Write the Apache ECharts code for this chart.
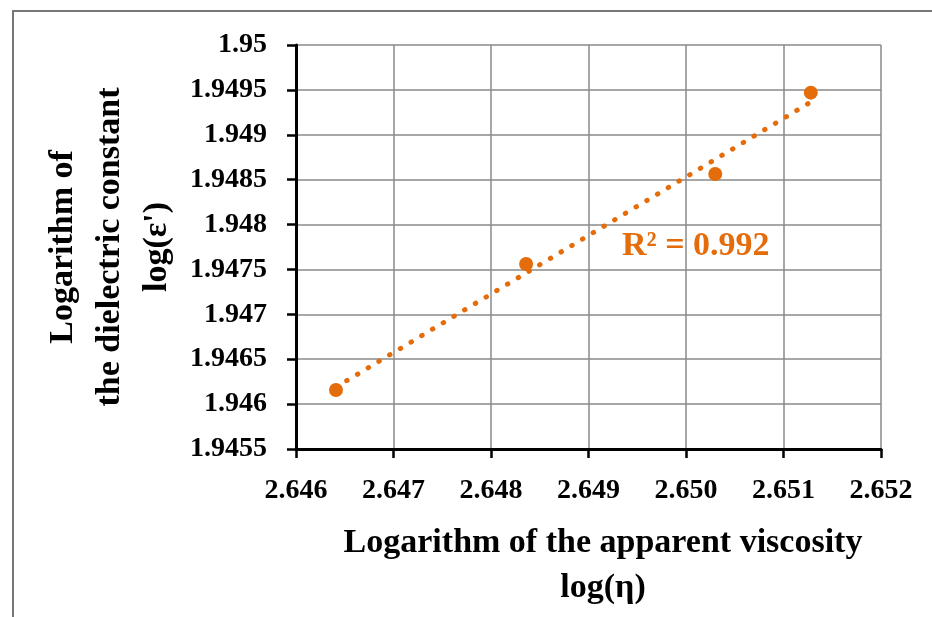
<!DOCTYPE html>
<html lang="en">
<head>
    <meta charset="UTF-8">
    <title>log(ε') vs log(η)</title>
    <script src="https://cdn.jsdelivr.net/npm/echarts@6.0.0/dist/echarts.min.js"></script>
    <style>
        html, body {
            margin: 0;
            padding: 0;
            background: #fff;
        }
        #frame {
            position: absolute;
            left: 12px;
            top: 10px;
            width: 930px;
            height: 617px;
            border-left: 2px solid #777;
            border-top: 2px solid #777;
        }
        #chart {
            position: absolute;
            left: 0;
            top: 0;
            width: 932px;
            height: 617px;
        }
    </style>
</head>
<body>
    <div id="frame"></div>
    <div id="chart"></div>

    <script>
        // measured points: log(viscosity) vs log(dielectric constant)
        const logViscosity = [2.64641, 2.64836, 2.65030, 2.65128];
        const logDielectric = [1.946158, 1.947561, 1.948563, 1.949469];

        // linear trendline ends, as drawn
        const trendX = [2.64641, 2.65128];
        const trendY = [1.946189, 1.949365];

        const rSquaredText = 'R² = 0.992';

        const orange = '#E46C0A';
        const serif = '"Liberation Serif", "DejaVu Serif", serif';

        const chart = echarts.init(document.getElementById('chart'), null, { renderer: 'canvas' });

        const points = logViscosity.map((x, i) => [x, logDielectric[i]]);
        const trend = trendX.map((x, i) => [x, trendY[i]]);

        chart.setOption({
            animation: false,
            backgroundColor: 'transparent',
            grid: { left: 296, right: 51, top: 45, bottom: 168 },
            xAxis: {
                type: 'value',
                min: 2.646,
                max: 2.652,
                interval: 0.001,
                axisLine: { show: true, onZero: false, lineStyle: { color: '#000', width: 3 } },
                axisTick: { show: true, inside: false, length: 9, lineStyle: { color: '#000', width: 2.5 } },
                axisLabel: {
                    margin: 28,
                    color: '#000',
                    fontFamily: serif,
                    fontWeight: 'bold',
                    fontSize: 28,
                    formatter: v => v.toFixed(3)
                },
                splitLine: { show: true, lineStyle: { color: '#8a8a8a', width: 1.5 } }
            },
            yAxis: {
                type: 'value',
                min: 1.9455,
                max: 1.95,
                interval: 0.0005,
                axisLine: { show: true, onZero: false, lineStyle: { color: '#000', width: 3 } },
                axisTick: { show: true, inside: false, length: 9, lineStyle: { color: '#000', width: 2.5 } },
                axisLabel: {
                    margin: 29,
                    color: '#000',
                    fontFamily: serif,
                    fontWeight: 'bold',
                    fontSize: 28,
                    formatter: v => String(parseFloat(v.toFixed(4)))
                },
                splitLine: { show: true, lineStyle: { color: '#8a8a8a', width: 1.5 } }
            },
            series: [
                {
                    name: 'trend',
                    type: 'line',
                    data: trend,
                    symbol: 'none',
                    z: 2,
                    lineStyle: { color: orange, width: 5, type: [0.5, 12], cap: 'round' }
                },
                {
                    name: 'data',
                    type: 'scatter',
                    data: points,
                    symbol: 'circle',
                    symbolSize: 14,
                    z: 3,
                    itemStyle: { color: orange, opacity: 1 }
                }
            ],
            graphic: [
                {
                    type: 'text',
                    left: 622,
                    top: 229,
                    style: {
                        text: rSquaredText,
                        fill: orange,
                        font: 'bold 34px ' + serif
                    }
                },
                {
                    type: 'text',
                    x: 110,
                    y: 247,
                    rotation: Math.PI / 2,
                    style: {
                        text: 'Logarithm of\nthe dielectric constant\nlog(ε\')',
                        fill: '#000',
                        font: 'bold 34px ' + serif,
                        lineHeight: 47,
                        align: 'center',
                        verticalAlign: 'middle'
                    }
                },
                {
                    type: 'text',
                    x: 603,
                    y: 566,
                    style: {
                        text: 'Logarithm of the apparent viscosity\nlog(η)',
                        fill: '#000',
                        font: 'bold 34px ' + serif,
                        lineHeight: 45,
                        align: 'center',
                        verticalAlign: 'middle'
                    }
                }
            ]
        });
    </script>
</body>
</html>
